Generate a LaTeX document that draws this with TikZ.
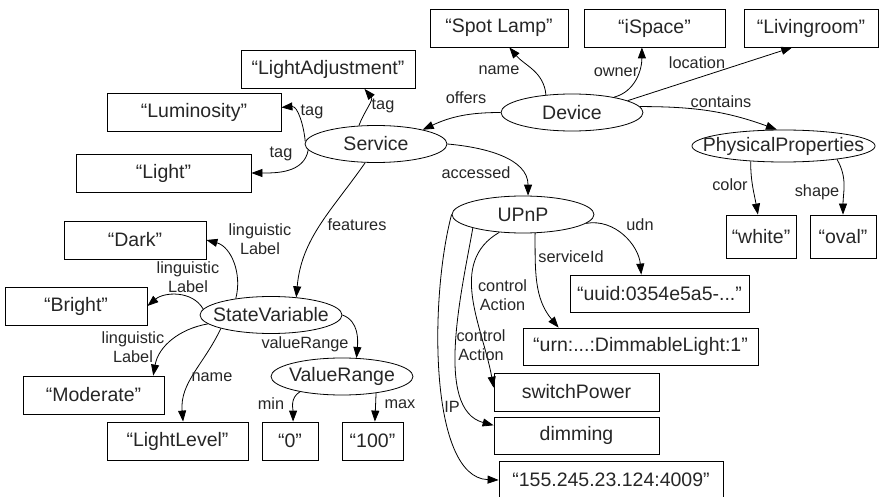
\documentclass[tikz,border=0pt]{standalone}
\usepackage{fontspec}
\setmainfont{Liberation Sans}
\usepackage{tikz}
\usetikzlibrary{arrows.meta,shapes.geometric}

\begin{document}
\begin{tikzpicture}[x=1pt,y=1pt,
  box/.style={draw, line width=0.8pt, minimum height=38pt, inner sep=0pt, text=black!85, font=\fontsize{19.5}{22}\selectfont},
  ent/.style={draw, ellipse, line width=0.8pt, minimum width=142pt, minimum height=37pt, inner xsep=-12pt, inner ysep=0pt, text=black!85, font=\fontsize{19.5}{22}\selectfont},
  lbl/.style={inner sep=0pt, align=center, text=black!85, font=\fontsize{16.3}{19}\selectfont},
  rel/.style={line width=0.8pt, -{Triangle[length=11pt,width=8pt]}}]
\useasboundingbox (0,0) rectangle (883,496);

% classes
\node [ent] (device) at (572,383.5) {Device};
\node [ent] (service) at (376,352) {Service};
\node [ent] (upnp) at (523,281.5) {UPnP};
\node [ent, inner xsep=-16pt, minimum height=32pt] (physprop) at (783.5,350) {PhysicalProperties};
\node [ent] (statevar) at (271,181) {StateVariable};
\node [ent] (valrange) at (342,119.5) {ValueRange};

% values
\node [box, minimum width=138pt] (spotlamp) at (499,468) {“Spot Lamp”};
\node [box, minimum width=141pt] (ispace) at (654.5,468) {“iSpace”};
\node [box, minimum width=134pt] (livingroom) at (811,468) {“Livingroom”};
\node [box, minimum width=174pt] (lightadj) at (328,426.5) {“LightAdjustment”};
\node [box, minimum width=174pt] (luminosity) at (194,384) {“Luminosity”};
\node [box, minimum width=175pt] (light) at (163.5,323) {“Light”};
\node [box, minimum width=142pt] (dark) at (135,256) {“Dark”};
\node [box, minimum width=142pt] (bright) at (76,190) {“Bright”};
\node [box, minimum width=141pt] (moderate) at (93.5,101) {“Moderate”};
\node [box, minimum width=141pt] (lightlevel) at (177.5,55) {“LightLevel”};
\node [box, minimum width=56pt] (zero) at (290,55) {“0"};
\node [box, minimum width=61pt] (hundred) at (372.5,55) {“100”};
\node [box, minimum width=70pt, minimum height=43pt] (white) at (761,259.5) {“white”};
\node [box, minimum width=66pt, minimum height=43pt] (oval) at (843,259.5) {“oval”};
\node [box, minimum width=179pt, minimum height=37pt] (uuid) at (659.5,202.5) {“uuid:0354e5a5-...”};
\node [box, minimum width=235pt, minimum height=37pt] (urn) at (640.5,149.5) {“urn:...:DimmableLight:1”};
\node [box, minimum width=165pt] (switchpower) at (576.5,104) {switchPower};
\node [box, minimum width=165pt, minimum height=37pt] (dimming) at (576.5,60.5) {dimming};
\node [box, minimum width=224pt] (ipaddr) at (611,16) {“155.245.23.124:4009”};

% device
\draw [rel] (device.146) to[out=95,in=-50] (spotlamp.-62);
\draw [rel] (device.20) to[out=15,in=-90] (ispace.-123);
\draw [rel] (device.12) -- (livingroom.-134);
\draw [rel] (device.west) to[out=180,in=25] (service.17);
\draw [rel] (device.5) to[out=0,in=160] (physprop.112);
\node [lbl] (l-name) at (499,426) {name};
\node [lbl] (l-owner) at (616,424) {owner};
\node [lbl] (l-location) at (697,433) {location};
\node [lbl] (l-offers) at (466,398) {offers};
\node [lbl] (l-contains) at (721,394) {contains};

% service
\draw [rel] (service.133) to[out=70,in=-50] (lightadj.-28);
\draw [rel] (service.178) to[out=95,in=5] (luminosity.3);
\draw [rel] (service.185) to[out=-100,in=0] (light.east);
\draw [rel] (service.-120) to[out=-125,in=85] (statevar.35);
\draw [rel] (service.east) to[out=-5,in=90] (upnp.75);
\node [lbl] (l-tag1) at (383,390) {tag};
\node [lbl] (l-tag2) at (312,384) {tag};
\node [lbl] (l-tag3) at (281,342) {tag};
\node [lbl] (l-features) at (357,271) {features};
\node [lbl] (l-accessed) at (476,323) {accessed};

% state variable
\draw [rel] (statevar.155) to[out=75,in=-15] (dark.east);
\draw [rel] (statevar.175) to[out=120,in=40] (bright.east);
\draw [rel] (statevar.-172) to[out=190,in=80] (moderate.18);
\draw [rel] (statevar.-165) to[out=-115,in=95] (lightlevel.74);
\draw [rel] (statevar.east) to[out=-20,in=85] (valrange.52);
\draw [rel] (valrange.-160) to[out=-150,in=90] (zero.81);
\draw [rel] (valrange.-26) -- (hundred.83);
\node [lbl] (l-ling1) at (260,256.5) {linguistic\\Label};
\node [lbl] (l-ling2) at (188,219) {linguistic\\Label};
\node [lbl] (l-ling3) at (133,149) {linguistic\\Label};
\node [lbl] (l-lvname) at (212,119) {name};
\node [lbl] (l-range) at (305,152) {valueRange};
\node [lbl] (l-min) at (271,92) {min};
\node [lbl] (l-max) at (400,92) {max};

% physical properties
\draw [rel] (physprop.-155) to[out=-90,in=100] (white.98);
\draw [rel] (physprop.-14) to[out=-60,in=90] (oval.north);
\node [lbl] (l-color) at (730,311) {color};
\node [lbl] (l-shape) at (817,304) {shape};

% upnp
\draw [rel] (upnp.-8) to[out=10,in=95] (uuid.134);
\draw [rel] (upnp.-57) to[out=-90,in=130] (urn.167);
\draw [rel] (upnp.-143) to[out=-150,in=100] (switchpower.177);
\draw [rel] (upnp.-165) to[out=-100,in=165,out distance=62pt,in distance=62pt] (dimming.173);
\draw [rel] (upnp.west) to[out=-105,in=178,out distance=85pt,in distance=70pt] (ipaddr.west);
\node [lbl] (l-udn) at (640,271) {udn};
\node [lbl] (l-sid) at (571,239) {serviceId};
\node [lbl] (l-ctrl1) at (502.5,201.3) {control\\Action};
\node [lbl] (l-ctrl2) at (481,150.7) {control\\Action};
\node [lbl] (l-ip) at (452,89) {IP};
\end{tikzpicture}
\end{document}
